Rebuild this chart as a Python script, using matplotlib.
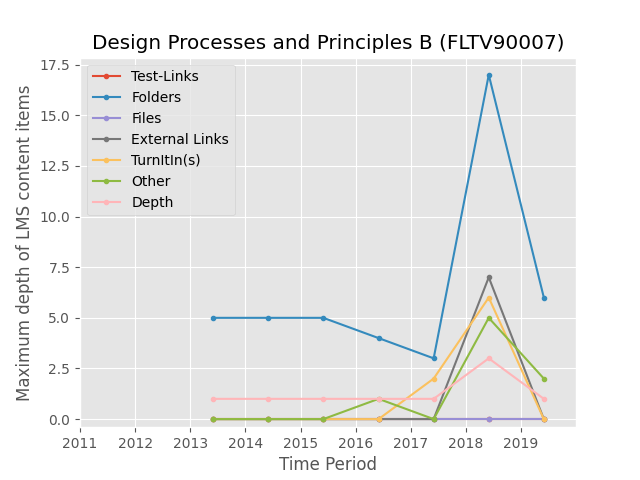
import matplotlib
matplotlib.use("Agg")
import matplotlib.pyplot as plt
import matplotlib.dates as mdates
import pandas as pd

plt.style.use("ggplot")

periods = pd.to_datetime(["2013-06-01", "2014-06-01", "2015-06-01", "2016-06-01",
                          "2017-06-01", "2018-06-01", "2019-06-01"])
test_links = [0, 0, 0, 0, 0, 0, 0]
folders = [5, 5, 5, 4, 3, 17, 6]
files = [0, 0, 0, 0, 0, 0, 0]
external_links = [0, 0, 0, 0, 0, 7, 0]
turnitin = [0, 0, 0, 0, 2, 6, 0]
other = [0, 0, 0, 1, 0, 5, 2]
depth = [1, 1, 1, 1, 1, 3, 1]

series = [("Test-Links", test_links), ("Folders", folders), ("Files", files),
          ("External Links", external_links), ("TurnItIn(s)", turnitin),
          ("Other", other), ("Depth", depth)]

fig, ax = plt.subplots(figsize=(6.4, 4.8), dpi=100)
for name, vals in series:
    ax.plot(periods, vals, marker=".", label=name)

ax.set_title("Design Processes and Principles B (FLTV90007)")
ax.set_xlabel("Time Period")
ax.set_ylabel("Maximum depth of LMS content items")
ax.set_xlim(pd.Timestamp("2011-01-01"), pd.Timestamp("2019-12-31"))
ax.set_ylim(-0.4, 17.85)
ax.xaxis.set_major_locator(mdates.YearLocator())
ax.xaxis.set_major_formatter(mdates.DateFormatter("%Y"))
ax.legend(loc="upper left")

plt.savefig("out.png", dpi=100)
